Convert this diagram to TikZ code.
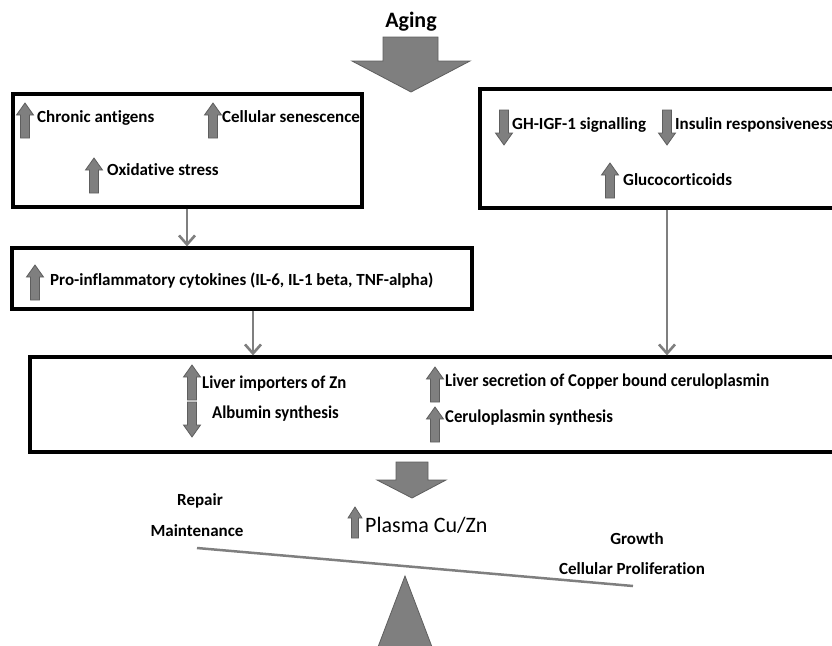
\documentclass[tikz,border=0pt]{standalone}
\usepackage{fontspec}
\setmainfont{Carlito}[Ligatures=NoCommon]
\usetikzlibrary{arrows.meta}
\definecolor{arrgray}{HTML}{7F7F7F}
\definecolor{arredge}{HTML}{5E5E5E}
\tikzset{
  box/.style={draw=black, line width=3.2pt, rectangle, inner sep=0pt},
  conn/.style={draw=arrgray, line width=2.6pt, -{Straight Barb[length=9pt,width=16pt,line width=2.6pt]}},
  arrowfill/.style={fill=arrgray, draw=arredge, line width=0.8pt},
  lbl/.style={font=\bfseries\fontsize{17}{19}\selectfont, inner sep=0pt, text height=1.4ex, text depth=0.35ex},
  mlbl/.style={lbl, font=\bfseries\fontsize{18}{20}\selectfont},
  slbl/.style={lbl, font=\bfseries\fontsize{17}{19}\selectfont},
  uarr/.pic={\filldraw[arrowfill] (-4.5,0) -- (-4.5,-23) -- (-8.5,-23) -- (0,-35) -- (8.5,-23) -- (4.5,-23) -- (4.5,0) -- cycle;},
  darr/.pic={\filldraw[arrowfill] (-4.5,0) -- (-4.5,23) -- (-8.5,23) -- (0,35) -- (8.5,23) -- (4.5,23) -- (4.5,0) -- cycle;}
}
\newcommand{\narrowtxt}[1]{\scalebox{0.93}[1]{#1}}
\begin{document}
\begin{tikzpicture}[x=1pt,y=-1pt]
\useasboundingbox (0,0) rectangle (832,645);
\clip (0,0) rectangle (832,645);

% Aging
\node[font=\bfseries\fontsize{22}{24}\selectfont, inner sep=0pt] (aging) at (411,22) {Aging};
\filldraw[arrowfill] (383,37) -- (438,37) -- (438,61) -- (470,61) -- (411,92) -- (352,61) -- (383,61) -- cycle;

% Box 1
\node[box, minimum width=349pt, minimum height=113pt] (b1) at (187.5,150.5) {};
\pic at (25,138) {uarr};
\node[lbl, anchor=west] (t1) at (37,120) {Chronic antigens};
\pic at (213,138) {uarr};
\node[lbl, anchor=west] (t2) at (222,120) {Cellular senescence};
\pic at (94,193) {uarr};
\node[lbl, anchor=west] (t3) at (107,173) {Oxidative stress};

% Box 2
\node[box, minimum width=370pt, minimum height=119pt] (b2) at (665,148.5) {};
\pic at (504,110) {darr};
\node[lbl, anchor=west] (t4) at (512,127) {GH-IGF-1 signalling};
\pic at (667,110) {darr};
\node[lbl, anchor=west] (t5) at (675,127) {Insulin responsiveness};
\pic at (610,198) {uarr};
\node[lbl, anchor=west] (t6) at (623,183) {Glucocorticoids};

% Pro box
\node[box, minimum width=460pt, minimum height=61pt] (pro) at (242,278.5) {};
\pic at (35,300) {uarr};
\node[lbl, anchor=west] (t7) at (50,283) {Pro-inflammatory cytokines (IL-6, IL-1 beta, TNF-alpha)};

% Main box
\node[box, minimum width=820pt, minimum height=95pt] (main) at (440,404.5) {};
\pic at (192,400) {uarr};
\node[mlbl, anchor=west] (t8) at (202,386) {\narrowtxt{Liver importers of Zn}};
\pic at (192,402) {darr};
\node[mlbl, anchor=west] (t9) at (212,416) {\narrowtxt{Albumin synthesis}};
\pic at (435,402) {uarr};
\node[mlbl, anchor=west] (t10) at (445,384) {\narrowtxt{Liver secretion of Copper bound ceruloplasmin}};
\pic at (435,442) {uarr};
\node[mlbl, anchor=west] (t11) at (445,420) {\narrowtxt{Ceruloplasmin synthesis}};

% connectors
\coordinate (c1) at (187,0);
\coordinate (c2) at (253,0);
\coordinate (c3) at (667,0);
\draw[conn] (b1.south -| c1) -- (pro.north -| c1);
\draw[conn] (pro.south -| c2) -- (main.north -| c2);
\draw[conn] (b2.south -| c3) -- (main.north -| c3);

% lower arrow
\filldraw[arrowfill] (396,462) -- (428,462) -- (428,480) -- (446,480) -- (412,498) -- (377,480) -- (396,480) -- cycle;

% plasma
\filldraw[arrowfill] (351.5,538) -- (351.5,518) -- (348,518) -- (355,507) -- (362,518) -- (358.5,518) -- (358.5,538) -- cycle;
\node[font=\fontsize{22}{24}\selectfont, inner sep=0pt, anchor=west, text height=1.4ex, text depth=0.35ex] (plasma) at (365,530) {Plasma Cu/Zn};

% balance
\node[slbl] (repair) at (200,503) {Repair};
\node[slbl] (maint) at (197,534) {Maintenance};
\node[slbl] (growth) at (637,542) {Growth};
\node[slbl] (prolif) at (632,572) {Cellular Proliferation};
\coordinate (beamL) at (197,548);
\coordinate (beamR) at (633,586);
\draw[draw=arrgray, line width=2.5pt] (beamL) -- (beamR);
\filldraw[arrowfill] (405,576) -- (440,668) -- (370,668) -- cycle;
\end{tikzpicture}
\end{document}
